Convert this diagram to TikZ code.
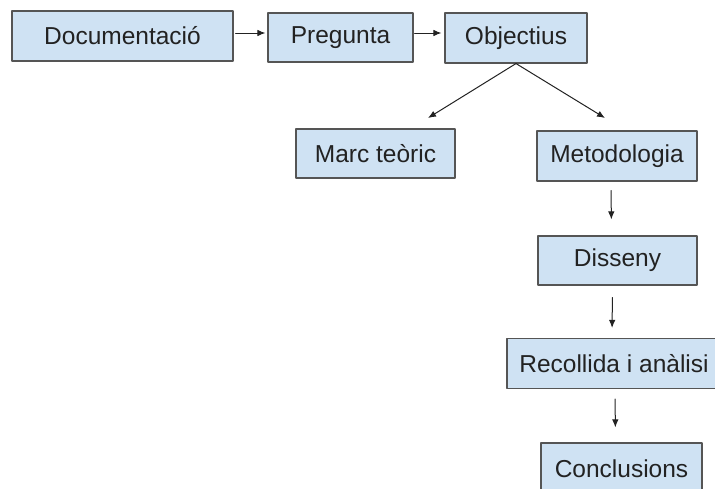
\documentclass[tikz,border=0pt]{standalone}
\usepackage{fontspec}
\setmainfont{Liberation Sans}
\usetikzlibrary{arrows.meta}
\definecolor{boxblue}{HTML}{CFE2F3}
\definecolor{boxline}{HTML}{555555}
\definecolor{txtgray}{HTML}{222222}
\tikzset{
  stepbox/.style={draw=boxline,line width=1.1pt,fill=boxblue,text=txtgray,
    inner sep=0pt,font=\fontsize{24.5}{29}\selectfont},
  arr/.style={-{Latex[length=8pt,width=6.5pt]},line width=1pt,draw=txtgray}
}

\begin{document}
\begin{tikzpicture}[line cap=round,line join=round,x=1pt,y=-1pt]
\useasboundingbox (0,0) rectangle (715,488);
\clip (0,0) rectangle (715,488);
% top row
\node [stepbox,minimum width=221pt,minimum height=50pt] (doc) at (122.5,36) {Documentaci\'o\hspace{12pt}};
\node [stepbox,minimum width=145pt,minimum height=49pt] (preg) at (340.5,37.5) {Pregunta};
\node [stepbox,minimum width=142pt,minimum height=50pt] (obj) at (516,38) {Objectius};
% second row
\node [stepbox,minimum width=159pt,minimum height=49pt] (marc) at (375.5,153.5) {Marc te\`oric};
\node [stepbox,minimum width=160pt,minimum height=50pt] (metod) at (617,156) {Metodologia};
% column
\node [stepbox,minimum width=159pt,minimum height=49pt] (diss) at (617.5,260.5) {Disseny};
\node [stepbox,minimum width=214pt,minimum height=50pt] (rec) at (614,363.5) {Recollida i an\`alisi\hspace{12pt}};
\node [stepbox,minimum width=161pt,minimum height=52pt] (conc) at (621.5,469) {Conclusions};
\coordinate (marcin) at (428,118);
\coordinate (metodin) at (605,118);
\draw [arr,shorten <=2pt,shorten >=2pt] (doc.east |- 0,33) -- (preg.west |- 0,33);
\draw [arr,shorten <=1pt,shorten >=3pt] (preg.east |- 0,33) -- (obj.west |- 0,33);
\draw [arr] (obj.south) -- (marcin);
\draw [arr] (obj.south) -- (metodin);
\draw [arr,shorten <=9pt,shorten >=16pt] ([xshift=-6pt]metod.south) -- ([xshift=-6pt]diss.north);
\draw [arr,shorten <=12pt,shorten >=10pt] ([xshift=-5pt]diss.south) -- ([xshift=-2pt]rec.north);
\draw [arr,shorten <=10pt,shorten >=15pt] ([xshift=1pt]rec.south) -- ([xshift=-6pt]conc.north);
\end{tikzpicture}
\end{document}
